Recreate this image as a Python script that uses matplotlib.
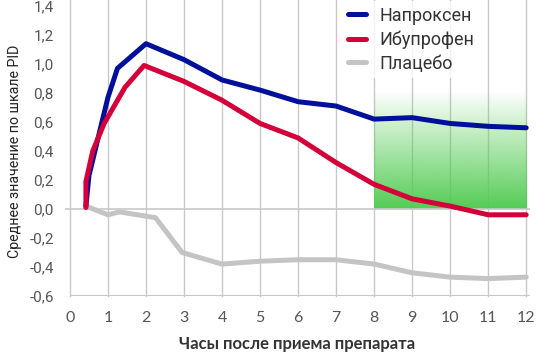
import matplotlib.pyplot as plt
import numpy as np
from matplotlib.colors import LinearSegmentedColormap

# Hours after taking the drug (approximate sample points)
hours_nap = [0.42, 0.5, 1.0, 1.25, 2, 3, 4, 5, 6, 7, 8, 9, 10, 11, 12]
naproxen = [0.02, 0.23, 0.77, 0.97, 1.14, 1.03, 0.89, 0.82, 0.74, 0.71, 0.62, 0.63, 0.59, 0.57, 0.56]

hours_ibu = [0.42, 0.42, 0.6, 0.9, 1.45, 1.95, 3, 4, 5, 6, 7, 8, 9, 10, 11, 12]
ibuprofen = [0.01, 0.19, 0.40, 0.59, 0.84, 0.99, 0.88, 0.75, 0.59, 0.49, 0.32, 0.17, 0.07, 0.02, -0.04, -0.04]

hours_pla = [0.42, 1.0, 1.3, 2.25, 2.95, 4, 5, 6, 7, 8, 9, 10, 11, 12]
placebo = [0.02, -0.04, -0.02, -0.06, -0.30, -0.38, -0.36, -0.35, -0.35, -0.38, -0.44, -0.47, -0.48, -0.47]

x_ticks = list(range(0, 13))
y_ticks = [-0.6, -0.4, -0.2, 0.0, 0.2, 0.4, 0.6, 0.8, 1.0, 1.2, 1.4]

# highlighted window
band_x = (8, 12)
band_top = 0.82

grid_col = "#c8c8c8"
text_col = "#555555"

fig = plt.figure(figsize=(5.38, 3.54), dpi=100)
ax = fig.add_axes([65 / 538, 1 - 296 / 354, (530 - 65) / 538, (296 - 6) / 354])

# green gradient region
cmap = LinearSegmentedColormap.from_list("g", [(0.33, 0.80, 0.33, 1.0), (0.33, 0.80, 0.33, 0.0)])
grad = np.linspace(0, 1, 256).reshape(-1, 1)
ax.imshow(grad, extent=[band_x[0], band_x[1], 0, band_top], origin="lower",
          cmap=cmap, aspect="auto", zorder=1)

# grid
for xt in x_ticks:
    ax.axvline(xt, ymax=1.03, color=grid_col, lw=1, zorder=0, clip_on=False)
ax.axhline(0, color=grid_col, lw=1.2, zorder=2)
ax.hlines(-0.6, 0, 12.1, color=grid_col, lw=1.5, zorder=2)

ax.plot(hours_pla, placebo, color="#c4c4c4", lw=3.6, solid_capstyle="round",
        solid_joinstyle="round", label="Плацебо", zorder=3)
ax.plot(hours_nap, naproxen, color="#00109a", lw=3.6, solid_capstyle="round",
        solid_joinstyle="round", label="Напроксен", zorder=4)
ax.plot(hours_ibu, ibuprofen, color="#d4003a", lw=3.6, solid_capstyle="round",
        solid_joinstyle="round", label="Ибупрофен", zorder=5)

ax.set_xlim(-0.13, 12.1)
ax.set_ylim(-0.6, 1.4)
for s in ax.spines.values():
    s.set_visible(False)

ax.set_xticks(x_ticks)
ax.set_xticklabels([str(t) for t in x_ticks], family="Lato", fontsize=11.5, color=text_col)
ax.set_yticks(y_ticks)
ax.set_yticklabels([f"{t:.1f}".replace(".", ",") for t in y_ticks],
                   family="Roboto", fontsize=11, color=text_col)
ax.tick_params(length=0)
ax.tick_params(axis="x", pad=11)
ax.tick_params(axis="y", pad=8)

ax.set_xlabel("Часы после приема препарата", family="Lato", fontweight="bold",
              fontsize=12, color="#333333", labelpad=8)
ax.set_ylabel("Среднее значение по шкале PID", family="Roboto", fontsize=10.2,
              color="#222222", labelpad=5)

handles, labels = ax.get_legend_handles_labels()
order = [1, 2, 0]
leg = ax.legend([handles[i] for i in order], [labels[i] for i in order],
                loc="upper left", bbox_to_anchor=(334 / 538, 1.022),
                bbox_transform=fig.transFigure, frameon=True,
                framealpha=0.8, edgecolor="none", fancybox=False,
                handlelength=0.95, handletextpad=0.75, borderpad=0.3, labelspacing=0.32,
                prop={"family": "Roboto", "size": 13})
for t in leg.get_texts():
    t.set_color("#333333")

fig.savefig("out.png", dpi=100)
